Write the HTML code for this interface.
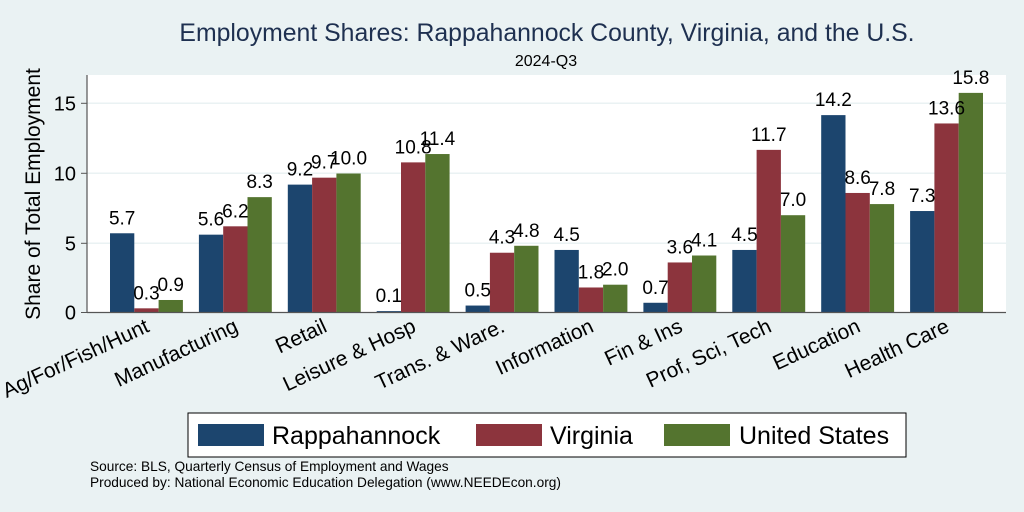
<!DOCTYPE html>
<html><head><meta charset="utf-8"><style>
body{margin:0;background:#eaf2f3;}
svg{display:block;font-family:"Liberation Sans",Arial,sans-serif;}
</style></head><body>
<svg width="1024" height="512" viewBox="0 0 1024 512">
<rect width="1024" height="512" fill="#eaf2f3"/>
<text x="547" y="41" font-size="24.8" fill="#1e3050" text-anchor="middle">Employment Shares: Rappahannock County, Virginia, and the U.S.</text>
<text x="546" y="66" font-size="16" fill="#000" text-anchor="middle">2024-Q3</text>
<rect x="87" y="75" width="919" height="237.5" fill="#fff"/>
<g stroke="#eaf2f3" stroke-width="1.5">
<line x1="87" x2="1006" y1="103.3" y2="103.3"/>
<line x1="87" x2="1006" y1="173.3" y2="173.3"/>
<line x1="87" x2="1006" y1="243.3" y2="243.3"/>
</g>
<g>
<rect x="110" y="233.27" width="24.3" height="79.23" fill="#1c456e"/>
<rect x="134.3" y="308.33" width="24.3" height="4.17" fill="#8c343d"/>
<rect x="158.6" y="299.99" width="24.3" height="12.51" fill="#54742f"/>
<rect x="198.9" y="234.66" width="24.3" height="77.84" fill="#1c456e"/>
<rect x="223.2" y="226.32" width="24.3" height="86.18" fill="#8c343d"/>
<rect x="247.5" y="197.13" width="24.3" height="115.37" fill="#54742f"/>
<rect x="287.8" y="184.62" width="24.3" height="127.88" fill="#1c456e"/>
<rect x="312.1" y="177.67" width="24.3" height="134.83" fill="#8c343d"/>
<rect x="336.4" y="173.5" width="24.3" height="139" fill="#54742f"/>
<rect x="376.7" y="311.11" width="24.3" height="1.39" fill="#1c456e"/>
<rect x="401" y="162.38" width="24.3" height="150.12" fill="#8c343d"/>
<rect x="425.3" y="154.04" width="24.3" height="158.46" fill="#54742f"/>
<rect x="465.6" y="305.55" width="24.3" height="6.95" fill="#1c456e"/>
<rect x="489.9" y="252.73" width="24.3" height="59.77" fill="#8c343d"/>
<rect x="514.2" y="245.78" width="24.3" height="66.72" fill="#54742f"/>
<rect x="554.5" y="249.95" width="24.3" height="62.55" fill="#1c456e"/>
<rect x="578.8" y="287.48" width="24.3" height="25.02" fill="#8c343d"/>
<rect x="603.1" y="284.7" width="24.3" height="27.8" fill="#54742f"/>
<rect x="643.4" y="302.77" width="24.3" height="9.73" fill="#1c456e"/>
<rect x="667.7" y="262.46" width="24.3" height="50.04" fill="#8c343d"/>
<rect x="692" y="255.51" width="24.3" height="56.99" fill="#54742f"/>
<rect x="732.3" y="249.95" width="24.3" height="62.55" fill="#1c456e"/>
<rect x="756.6" y="149.87" width="24.3" height="162.63" fill="#8c343d"/>
<rect x="780.9" y="215.2" width="24.3" height="97.3" fill="#54742f"/>
<rect x="821.2" y="115.12" width="24.3" height="197.38" fill="#1c456e"/>
<rect x="845.5" y="192.96" width="24.3" height="119.54" fill="#8c343d"/>
<rect x="869.8" y="204.08" width="24.3" height="108.42" fill="#54742f"/>
<rect x="910.1" y="211.03" width="24.3" height="101.47" fill="#1c456e"/>
<rect x="934.4" y="123.46" width="24.3" height="189.04" fill="#8c343d"/>
<rect x="958.7" y="92.88" width="24.3" height="219.62" fill="#54742f"/>
</g>
<g font-size="19" text-anchor="middle">
<text x="122.15" y="224.27">5.7</text><text x="146.45" y="299.33">0.3</text><text x="170.75" y="290.99">0.9</text>
<text x="211.05" y="225.66">5.6</text><text x="235.35" y="217.32">6.2</text><text x="259.65" y="188.13">8.3</text>
<text x="299.95" y="175.62">9.2</text><text x="324.25" y="168.67">9.7</text><text x="348.55" y="164.5">10.0</text>
<text x="388.85" y="302.11">0.1</text><text x="413.15" y="153.38">10.8</text><text x="437.45" y="145.04">11.4</text>
<text x="477.75" y="296.55">0.5</text><text x="502.05" y="243.73">4.3</text><text x="526.35" y="236.78">4.8</text>
<text x="566.65" y="240.95">4.5</text><text x="590.95" y="278.48">1.8</text><text x="615.25" y="275.7">2.0</text>
<text x="655.55" y="293.77">0.7</text><text x="679.85" y="253.46">3.6</text><text x="704.15" y="246.51">4.1</text>
<text x="744.45" y="240.95">4.5</text><text x="768.75" y="140.87">11.7</text><text x="793.05" y="206.2">7.0</text>
<text x="833.35" y="106.12">14.2</text><text x="857.65" y="183.96">8.6</text><text x="881.95" y="195.08">7.8</text>
<text x="922.25" y="202.03">7.3</text><text x="946.55" y="114.46">13.6</text><text x="970.85" y="83.88">15.8</text>
</g>
<line x1="87" y1="75" x2="87" y2="313" stroke="#555" stroke-width="1.2"/>
<line x1="87" y1="312.5" x2="1006" y2="312.5" stroke="#555" stroke-width="1.2"/>
<g font-size="20" text-anchor="end">
<line x1="81" x2="87" y1="103.3" y2="103.3" stroke="#555"/><text x="76" y="110.5">15</text>
<line x1="81" x2="87" y1="173.3" y2="173.3" stroke="#555"/><text x="76" y="180.5">10</text>
<line x1="81" x2="87" y1="243.3" y2="243.3" stroke="#555"/><text x="76" y="250.5">5</text>
<line x1="81" x2="87" y1="312.5" y2="312.5" stroke="#555"/><text x="76" y="319.5">0</text>
</g>
<text transform="translate(40,194) rotate(-90)" font-size="21" text-anchor="middle">Share of Total Employment</text>
<g font-size="21" text-anchor="end">
<text transform="translate(150.5,331) rotate(-25)">Ag/For/Fish/Hunt</text>
<text transform="translate(239.4,331) rotate(-25)">Manufacturing</text>
<text transform="translate(328.3,331) rotate(-25)">Retail</text>
<text transform="translate(417.2,331) rotate(-25)">Leisure &amp; Hosp</text>
<text transform="translate(506.1,331) rotate(-25)">Trans. &amp; Ware.</text>
<text transform="translate(595,331) rotate(-25)">Information</text>
<text transform="translate(683.9,331) rotate(-25)">Fin &amp; Ins</text>
<text transform="translate(772.8,331) rotate(-25)">Prof, Sci, Tech</text>
<text transform="translate(861.7,331) rotate(-25)">Education</text>
<text transform="translate(950.6,331) rotate(-25)">Health Care</text>
</g>
<rect x="188" y="413" width="718" height="44" fill="#fff" stroke="#000" stroke-width="1"/>
<rect x="198" y="424" width="66" height="22" fill="#1c456e"/>
<text x="272" y="444" font-size="25">Rappahannock</text>
<rect x="476" y="424" width="66" height="22" fill="#8c343d"/>
<text x="550" y="444" font-size="25">Virginia</text>
<rect x="664" y="424" width="66" height="22" fill="#54742f"/>
<text x="739" y="444" font-size="25">United States</text>
<text x="90" y="471" font-size="13.7">Source: BLS, Quarterly Census of Employment and Wages</text>
<text x="90" y="487" font-size="13.7">Produced by: National Economic Education Delegation (www.NEEDEcon.org)</text>
</svg>
</body></html>
